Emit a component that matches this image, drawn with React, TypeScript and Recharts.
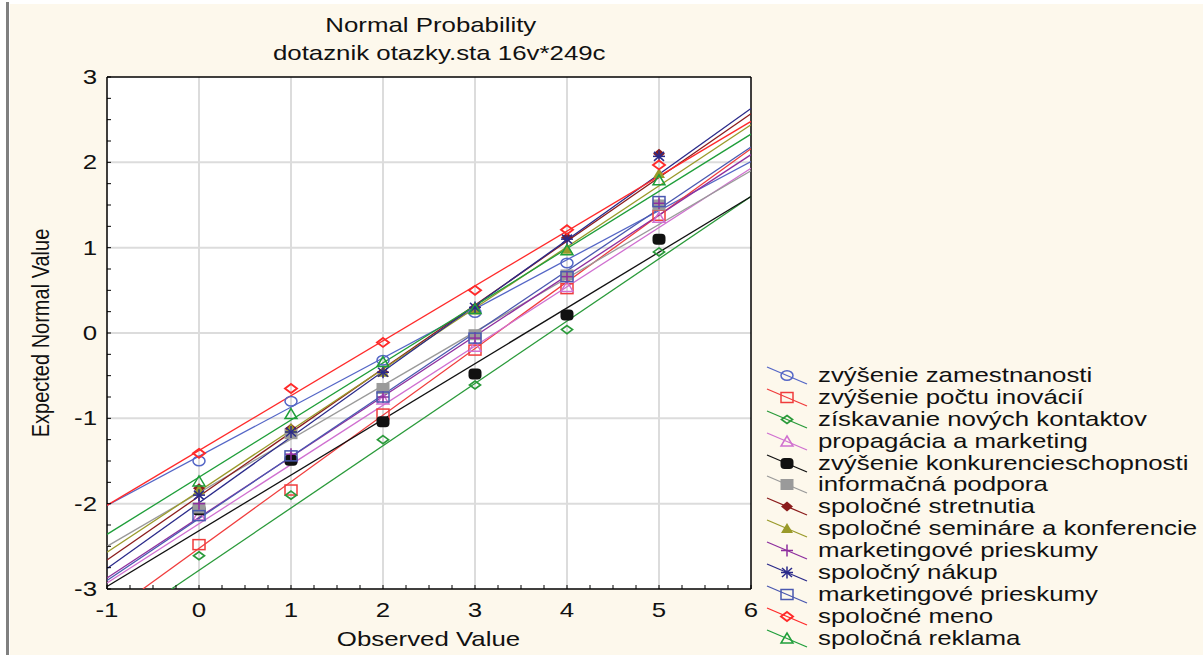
import React from "react";
import { ComposedChart, ReferenceArea, ReferenceLine, Scatter, XAxis, YAxis } from "recharts";

// observed values (x) shared by every series
const observed = [0, 1, 2, 3, 4, 5];

// expected normal values, one array per series
const zamestnanosti = [-1.5, -0.8, -0.32, 0.24, 0.82, 1.5];
const inovacii = [-2.48, -1.84, -0.95, -0.2, 0.52, 1.38];
const kontaktov = [-2.61, -1.9, -1.25, -0.61, 0.04, 0.95];
const propagacia = [-2.14, -1.46, -0.78, -0.16, 0.54, 1.35];
const konkurencie = [-2.07, -1.49, -1.04, -0.48, 0.21, 1.1];
const informacna = [-2.05, -1.18, -0.65, -0.02, 0.68, 1.5];
const stretnutia = [-1.82, -1.12, -0.46, 0.3, 1.12, 2.1];
const seminare = [-1.84, -1.12, -0.46, 0.27, 0.98, 1.87];
const prieskumy1 = [-2.0, -1.42, -0.75, -0.06, 0.66, 1.52];
const nakup = [-1.9, -1.16, -0.46, 0.3, 1.1, 2.07];
const prieskumy2 = [-2.14, -1.44, -0.75, -0.06, 0.66, 1.54];
const meno = [-1.41, -0.65, -0.11, 0.5, 1.21, 1.97];
const reklama = [-1.74, -0.95, -0.34, 0.28, 0.97, 1.79];

// fitted lines: start point (x0, y0) and value at x = 6
const fitStartX = [-1, -0.61, -0.3, -1, -1, -1, -1, -1, -1, -1, -1, -1, -1];
const fitStartY = [-2.02, -3, -3, -2.93, -2.97, -2.5, -2.66, -2.57, -2.87, -2.76, -2.9, -2.02, -2.36];
const fitEndY = [2.01, 2.16, 1.6, 1.93, 1.6, 1.9, 2.57, 2.44, 2.09, 2.63, 2.18, 2.48, 2.33];

const seriesNames = [
  "zvýšenie zamestnanosti",
  "zvýšenie počtu inovácií",
  "získavanie nových kontaktov",
  "propagácia a marketing",
  "zvýšenie konkurencieschopnosti",
  "informačná podpora",
  "spoločné stretnutia",
  "spoločné semináre a konferencie",
  "marketingové prieskumy",
  "spoločný nákup",
  "marketingové prieskumy",
  "spoločné meno",
  "spoločná reklama",
];
const seriesValues = [
  zamestnanosti, inovacii, kontaktov, propagacia, konkurencie, informacna,
  stretnutia, seminare, prieskumy1, nakup, prieskumy2, meno, reklama,
];
const seriesColors = [
  "#5466c6", "#f03c3c", "#2a9a3a", "#d070d0", "#111111", "#9a9a9a",
  "#8b1c1c", "#9a9a2a", "#8e2e9e", "#2a2a8a", "#4a58b0", "#ff2a2a", "#1f9e3a",
];
const seriesMarkers = [
  "circle", "square", "diamondSmall", "triangle", "dot", "squareFilled",
  "diamondFilled", "triangleFilled", "plus", "asterisk", "square", "diamond", "triangle",
];

const xMajor = [-1, 0, 1, 2, 3, 4, 5, 6];
const yMajor = [-3, -2, -1, 0, 1, 2, 3];
const quarter = (major: number[]) =>
  major.flatMap((v, i) => (i === major.length - 1 ? [v] : [v, v + 0.25, v + 0.5, v + 0.75]));
const xTicks = quarter(xMajor);
const yTicks = quarter(yMajor);

const FONT = "'Liberation Sans', Arial, sans-serif";
const FS = 21;
const SX = 1.23;

const series = seriesNames.map((name, i) => ({
  name,
  color: seriesColors[i],
  marker: seriesMarkers[i],
  points: observed.map((x, j) => ({ x, y: seriesValues[i][j] })),
  fit: [
    { x: fitStartX[i], y: fitStartY[i] },
    { x: 6, y: fitEndY[i] },
  ],
}));

function Marker({ kind, color, cx, cy }: { kind: string; color: string; cx: number; cy: number }) {
  const sw = 1.5;
  switch (kind) {
    case "circle":
      return <ellipse cx={cx} cy={cy} rx={6} ry={4.8} fill="none" stroke={color} strokeWidth={sw} />;
    case "square":
      return <rect x={cx - 6} y={cy - 5} width={12} height={10} fill="none" stroke={color} strokeWidth={sw} />;
    case "squareFilled":
      return <rect x={cx - 6.5} y={cy - 5.5} width={13} height={11} fill={color} />;
    case "dot":
      return <rect x={cx - 6.5} y={cy - 5.5} width={13} height={11} rx={4} fill={color} />;
    case "diamond":
      return (
        <polygon
          points={`${cx},${cy - 4.5} ${cx + 6},${cy} ${cx},${cy + 4.5} ${cx - 6},${cy}`}
          fill="none" stroke={color} strokeWidth={1.9}
        />
      );
    case "diamondSmall":
      return (
        <polygon
          points={`${cx},${cy - 4} ${cx + 5.5},${cy} ${cx},${cy + 4} ${cx - 5.5},${cy}`}
          fill="none" stroke={color} strokeWidth={1.7}
        />
      );
    case "diamondFilled":
      return <polygon points={`${cx},${cy - 5} ${cx + 6},${cy} ${cx},${cy + 5} ${cx - 6},${cy}`} fill={color} />;
    case "triangle":
      return (
        <polygon
          points={`${cx},${cy - 5.5} ${cx + 6},${cy + 4.5} ${cx - 6},${cy + 4.5}`}
          fill="none" stroke={color} strokeWidth={sw}
        />
      );
    case "triangleFilled":
      return <polygon points={`${cx},${cy - 5.5} ${cx + 6},${cy + 4.5} ${cx - 6},${cy + 4.5}`} fill={color} />;
    case "plus":
      return (
        <g stroke={color} strokeWidth={sw}>
          <line x1={cx - 6} y1={cy} x2={cx + 6} y2={cy} />
          <line x1={cx} y1={cy - 6} x2={cx} y2={cy + 6} />
        </g>
      );
    case "asterisk":
      return (
        <g stroke={color} strokeWidth={sw}>
          <line x1={cx - 6} y1={cy} x2={cx + 6} y2={cy} />
          <line x1={cx} y1={cy - 6} x2={cx} y2={cy + 6} />
          <line x1={cx - 5} y1={cy - 4.5} x2={cx + 5} y2={cy + 4.5} />
          <line x1={cx - 5} y1={cy + 4.5} x2={cx + 5} y2={cy - 4.5} />
        </g>
      );
    default:
      return <g />;
  }
}

const isMajor = (v: number) => Number.isInteger(v);

const BottomTick = (props: any) => {
  const { x, y, payload } = props;
  return (
    <g>
      <line x1={x} y1={y} x2={x} y2={y - 4} stroke="#000" />
      {isMajor(payload.value) && (
        <text transform={`translate(${x},${y + 28}) scale(${SX},1)`} textAnchor="middle"
          fontSize={FS} fontFamily={FONT} fill="#111">
          {payload.value}
        </text>
      )}
    </g>
  );
};
const TopTick = (props: any) => <line x1={props.x} y1={props.y} x2={props.x} y2={props.y + 4} stroke="#000" />;
const LeftTick = (props: any) => {
  const { x, y, payload } = props;
  return (
    <g>
      <line x1={x} y1={y} x2={x + 4} y2={y} stroke="#000" />
      {isMajor(payload.value) && (
        <text transform={`translate(${x - 10},${y + 7}) scale(${SX},1)`} textAnchor="end"
          fontSize={FS} fontFamily={FONT} fill="#111">
          {payload.value}
        </text>
      )}
    </g>
  );
};
const RightTick = (props: any) => <line x1={props.x} y1={props.y} x2={props.x - 4} y2={props.y} stroke="#000" />;

const stretched: React.CSSProperties = {
  display: "inline-block",
  transform: `scaleX(${SX})`,
  transformOrigin: "center",
};

export default function App() {
  return (
    <div style={{ position: "absolute", left: 0, top: 0, width: 1203, height: 655, background: "#ffffff", overflow: "hidden", fontFamily: FONT, color: "#111" }}>
      <div style={{ position: "absolute", left: 6, top: 2, width: 3, height: 653, background: "#808080" }} />
      <div style={{ position: "absolute", left: 10, top: 4, width: 1193, height: 651, background: "#fdf8ec" }} />

      <div style={{ position: "absolute", left: 0, top: 11, width: 862, textAlign: "center", fontSize: FS, lineHeight: "28px" }}>
        <div><span style={stretched}>Normal Probability</span></div>
      </div>
      <div style={{ position: "absolute", left: 0, top: 39, width: 878, textAlign: "center", fontSize: FS, lineHeight: "28px" }}>
        <span style={stretched}>dotaznik otazky.sta 16v*249c</span>
      </div>

      <div style={{ position: "absolute", left: 0, top: 0 }}>
        <ComposedChart width={1203} height={655} margin={{ top: 76, right: 451, bottom: 0, left: 47 }}>
          <XAxis dataKey="x" type="number" domain={[-1, 6]} ticks={xTicks} allowDataOverflow
            height={66} tickSize={0} tickMargin={0} tick={BottomTick} interval={0}
            axisLine={{ stroke: "#000", strokeWidth: 1.5 }} tickLine={false} />
          <XAxis xAxisId="top" orientation="top" type="number" domain={[-1, 6]} ticks={xTicks}
            height={1} tickSize={0} tickMargin={0} tick={TopTick} interval={0}
            axisLine={{ stroke: "#000", strokeWidth: 1.5 }} tickLine={false} />
          <YAxis dataKey="y" type="number" domain={[-3, 3]} ticks={yTicks} allowDataOverflow
            width={60} tickSize={0} tickMargin={0} tick={LeftTick} interval={0}
            axisLine={{ stroke: "#000", strokeWidth: 1.5 }} tickLine={false} />
          <YAxis yAxisId="right" orientation="right" type="number" domain={[-3, 3]} ticks={yTicks}
            width={1} tickSize={0} tickMargin={0} tick={RightTick} interval={0}
            axisLine={{ stroke: "#000", strokeWidth: 1.5 }} tickLine={false} />

          <ReferenceArea x1={-1} x2={6} y1={-3} y2={3} fill="#ffffff" fillOpacity={1} stroke="none" />
          {xMajor.slice(1, -1).map((v) => (
            <ReferenceLine key={`gx${v}`} x={v} stroke="#dcdcdc" strokeWidth={2} />
          ))}
          {yMajor.slice(1, -1).map((v) => (
            <ReferenceLine key={`gy${v}`} y={v} stroke="#dcdcdc" strokeWidth={2} />
          ))}

          {series.map((s, i) => (
            <Scatter key={`fit${i}`} data={s.fit} line={{ stroke: s.color, strokeWidth: 1.3 }}
              shape={() => <g />} isAnimationActive={false} />
          ))}
          {series.map((s, i) => (
            <Scatter key={`pts${i}`} name={s.name} data={s.points} isAnimationActive={false}
              shape={(p: any) => <Marker kind={s.marker} color={s.color} cx={p.cx} cy={p.cy} />} />
          ))}
        </ComposedChart>
      </div>

      <div style={{ position: "absolute", left: 0, top: 625, width: 858, textAlign: "center", fontSize: FS, lineHeight: "28px" }}>
        <span style={stretched}>Observed Value</span>
      </div>
      <div style={{ position: "absolute", left: 40 - 150, top: 333 - 14, width: 300, height: 28, lineHeight: "28px", textAlign: "center", fontSize: 20, transform: `scaleX(${SX}) rotate(-90deg)`, transformOrigin: "center" }}>
        Expected Normal Value
      </div>

      <div style={{ position: "absolute", left: 764, top: 364 }}>
        {series.map((s, i) => (
          <div key={i} style={{ position: "relative", height: 21.9, width: 439 }}>
            <svg width={46} height={22} style={{ position: "absolute", left: 0, top: 0 }}>
              <line x1={3} y1={3} x2={43} y2={20} stroke={s.color} strokeWidth={1.3} />
              <Marker kind={s.marker} color={s.color} cx={23} cy={11.5} />
            </svg>
            <div style={{ position: "absolute", left: 54, top: 0, lineHeight: "22px", fontSize: FS, whiteSpace: "nowrap", transform: `scaleX(${SX})`, transformOrigin: "left center" }}>
              {s.name}
            </div>
          </div>
        ))}
      </div>
    </div>
  );
}
